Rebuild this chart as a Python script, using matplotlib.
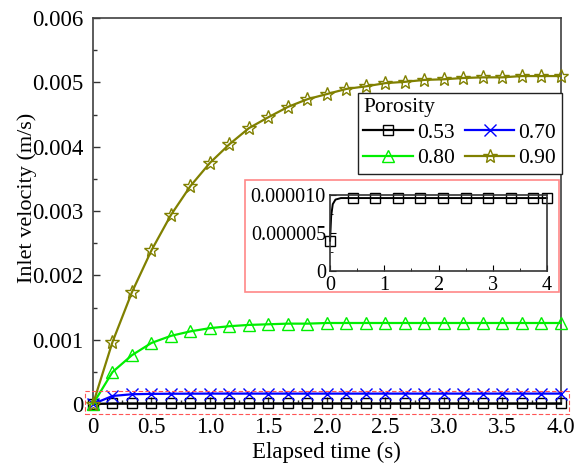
import matplotlib
matplotlib.use("Agg")
import matplotlib.pyplot as plt
from matplotlib.patches import Rectangle
from matplotlib.ticker import MultipleLocator, FuncFormatter

plt.rcParams['font.family'] = ['Liberation Serif', 'DejaVu Serif']
plt.rcParams['mathtext.fontset'] = 'stix'

# ---- data ----
time_s = [k / 6 for k in range(25)]
por_053 = [0.0] + [9.5e-6] + [9.6e-6] * 23
por_070 = [0.0, 0.000125, 0.000152, 0.000158, 0.000160, 0.000161, 0.000162,
           0.000162, 0.000162, 0.000162, 0.000162, 0.000162, 0.000162,
           0.000162, 0.000162, 0.000162, 0.000162, 0.000162, 0.000162,
           0.000162, 0.000162, 0.000162, 0.000162, 0.000162, 0.000162]
por_080 = [0.0, 0.000497, 0.00076, 0.00095, 0.00106, 0.00113, 0.00118,
           0.00121, 0.00123, 0.00124, 0.00125, 0.00125, 0.00126, 0.00126,
           0.00126, 0.00126, 0.00126, 0.00126, 0.00126, 0.00126, 0.00126,
           0.00126, 0.00126, 0.00126, 0.00126]
por_090 = [0.0, 0.000964, 0.00174, 0.00239, 0.00294, 0.00339, 0.00375,
           0.00404, 0.00429, 0.00446, 0.00462, 0.00474, 0.00482, 0.00490,
           0.00494, 0.00499, 0.00501, 0.00504, 0.00505, 0.00507, 0.00508,
           0.00508, 0.00510, 0.00510, 0.00510]

inset_t = [0, 0.02, 0.05, 0.1, 0.2, 0.4167, 0.8333, 1.25, 1.6667, 2.0833,
           2.5, 2.9167, 3.3333, 3.75, 4.0]
inset_053 = [4.0e-6, 7.2e-6, 8.8e-6, 9.4e-6, 9.6e-6, 9.6e-6, 9.6e-6, 9.6e-6,
             9.6e-6, 9.6e-6, 9.6e-6, 9.6e-6, 9.6e-6, 9.6e-6, 9.6e-6]
inset_marks = [0, 5, 6, 7, 8, 9, 10, 11, 12, 13, 14]

labels = ['0.53', '0.70', '0.80', '0.90']
colors = ['#000000', '#0000ff', '#00ee00', '#808000']
markers = ['s', 'x', '^', '*']
msizes = [7, 9, 9, 10]

fig = plt.figure(figsize=(5.74, 4.66), dpi=100)
ax = fig.add_axes([0.162, 0.133, 0.815, 0.828])

handles = []
for vals, lab, c, m, ms in zip([por_053, por_070, por_080, por_090],
                               labels, colors, markers, msizes):
    h, = ax.plot(time_s, vals, color=c, lw=1.6, marker=m, ms=ms,
                 mfc='none', mec=c, mew=1.0, label=lab, clip_on=False, zorder=3)
    handles.append(h)

ax.set_xlim(0, 4.0)
ax.set_ylim(0, 0.006)
ax.xaxis.set_major_locator(MultipleLocator(0.5))
ax.xaxis.set_minor_locator(MultipleLocator(0.25))
ax.yaxis.set_major_locator(MultipleLocator(0.001))
ax.yaxis.set_minor_locator(MultipleLocator(0.0005))
ax.xaxis.set_major_formatter(FuncFormatter(lambda v, p: '0' if abs(v) < 1e-9 else f'{v:.1f}'))
ax.yaxis.set_major_formatter(FuncFormatter(lambda v, p: '0' if abs(v) < 1e-12 else f'{v:.3f}'))
ax.tick_params(which='both', direction='in', top=False, right=False,
               labelsize=16.5, color='#333333')
ax.tick_params(which='major', length=5, width=1)
ax.tick_params(which='minor', length=3, width=1)
ax.tick_params(axis='x', which='major', pad=9)
ax.tick_params(axis='y', which='major', pad=7)
for s in ax.spines.values():
    s.set_color('#404040')
    s.set_linewidth(1.2)

ax.set_xlabel('Elapsed time (s)', fontsize=16.5, labelpad=3)
ax.set_ylabel('Inlet velocity (m/s)', fontsize=16)
ax.yaxis.set_label_coords(-0.12, 0.535)

order = [0, 2, 1, 3]
leg = ax.legend([handles[i] for i in order], [labels[i] for i in order],
                title='Porosity', ncol=2, loc='upper right',
                bbox_to_anchor=(1.002, 0.806), fontsize=15.5, title_fontsize=15.5,
                frameon=True, fancybox=False, framealpha=1,
                edgecolor='#222222', handlelength=2.3, handletextpad=0.2,
                columnspacing=0.45, labelspacing=0.25, borderpad=0.25,
                borderaxespad=0)
leg._legend_box.align = 'left'
leg.get_frame().set_linewidth(1.0)

# dashed red highlight around the low-velocity region
ax.add_patch(Rectangle((-0.07, -0.00016), 4.14, 0.00036, fill=False,
                       ec='#ff5555', ls=(0, (4, 2)), lw=0.8, clip_on=False,
                       zorder=5))

# inset red frame
fig.add_artist(Rectangle((0.427, 0.373), 0.547, 0.241, transform=fig.transFigure,
                         fill=True, fc='white', ec='#ff8888', lw=1.2, zorder=4))

axin = fig.add_axes([0.575, 0.418, 0.378, 0.1635], zorder=5)
axin.plot(inset_t, inset_053, color='#000000', lw=1.4, marker='s', ms=7,
          mfc='none', mec='#000000', mew=1.0, markevery=inset_marks,
          clip_on=False)
axin.set_xlim(0, 4)
axin.set_ylim(0, 1.0e-5)
axin.xaxis.set_major_locator(MultipleLocator(1))
axin.xaxis.set_minor_locator(MultipleLocator(0.5))
axin.yaxis.set_major_locator(MultipleLocator(5e-6))
axin.yaxis.set_minor_locator(MultipleLocator(2.5e-6))
axin.xaxis.set_major_formatter(FuncFormatter(lambda v, p: f'{v:.0f}'))
axin.yaxis.set_major_formatter(FuncFormatter(lambda v, p: '0' if abs(v) < 1e-12 else f'{v:.6f}'))
axin.tick_params(which='both', direction='in', top=False, right=False,
                 labelsize=14.5)
axin.tick_params(axis='x', which='major', pad=3.5)
axin.tick_params(axis='y', which='major', pad=3)
axin.tick_params(which='major', length=4)
axin.tick_params(which='minor', length=2.5)
for s in axin.spines.values():
    s.set_color('#333333')
    s.set_linewidth(1.2)

fig.savefig('out.png', dpi=100)
